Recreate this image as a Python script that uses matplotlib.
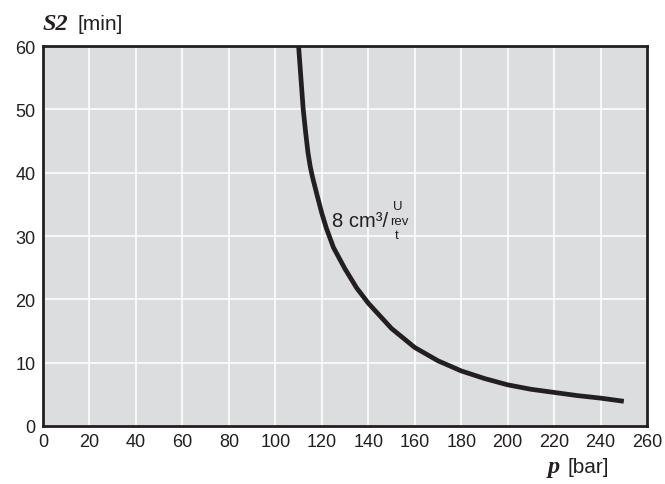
import matplotlib
matplotlib.use("Agg")
import matplotlib.pyplot as plt

# curve values
pressure = [110, 111, 112, 113, 114, 115, 116, 118, 120, 122, 125, 130, 135, 140,
            150, 160, 170, 180, 190, 200, 210, 220, 230, 240, 250]
s2_time = [60, 55, 50, 46.5, 43.3, 41, 39.3, 36.4, 33.6, 31.2, 28.2, 24.8, 21.8, 19.4,
           15.4, 12.4, 10.3, 8.7, 7.5, 6.5, 5.8, 5.3, 4.8, 4.4, 3.9]

x_ticks = list(range(0, 261, 20))
y_ticks = list(range(0, 61, 10))

dark = "#231f20"
plt.rcParams['font.family'] = ['Liberation Sans', 'DejaVu Sans']

fig = plt.figure(figsize=(6.65, 4.85), dpi=100)
ax = fig.add_axes([0.0647, 0.1196, 0.9083, 0.7834])
ax.set_facecolor("#dcdddf")

ax.plot(pressure, s2_time, color=dark, lw=3.4, solid_capstyle='butt',
        solid_joinstyle='round', zorder=3)

ax.set_xlim(0, 260)
ax.set_ylim(0, 60)
ax.set_xticks(x_ticks)
ax.set_yticks(y_ticks)
ax.tick_params(length=0, labelsize=13, colors=dark, pad=5.5)
ax.tick_params(axis='x', pad=5)
ax.grid(color="white", lw=1.1)
ax.set_axisbelow(True)
for sp in ax.spines.values():
    sp.set_color(dark)
    sp.set_linewidth(2)

# curve label
ax.text(124.6, 32.4, "8 cm³/", fontsize=14.5, color=dark, va='center', ha='left')
ax.text(152.6, 34.8, "U", fontsize=9.5, color=dark, va='center', ha='center')
ax.text(153.3, 32.4, "rev", fontsize=9.5, color=dark, va='center', ha='center')
ax.text(152.2, 30.2, "t", fontsize=9.5, color=dark, va='center', ha='center')

# axis titles
fig.text(0.0647, 0.950, "S2", family='Liberation Serif', fontweight='bold',
         fontstyle='italic', fontsize=17.5, color=dark, va='center', ha='left')
fig.text(0.117, 0.950, "[min]", fontsize=15, color=dark, va='center', ha='left')
fig.text(0.824, 0.037, "p", family='Liberation Serif', fontweight='bold',
         fontstyle='italic', fontsize=17.5, color=dark, va='center', ha='left')
fig.text(0.853, 0.037, "[bar]", fontsize=15, color=dark, va='center', ha='left')

fig.savefig("out.png", dpi=100, facecolor="white")
